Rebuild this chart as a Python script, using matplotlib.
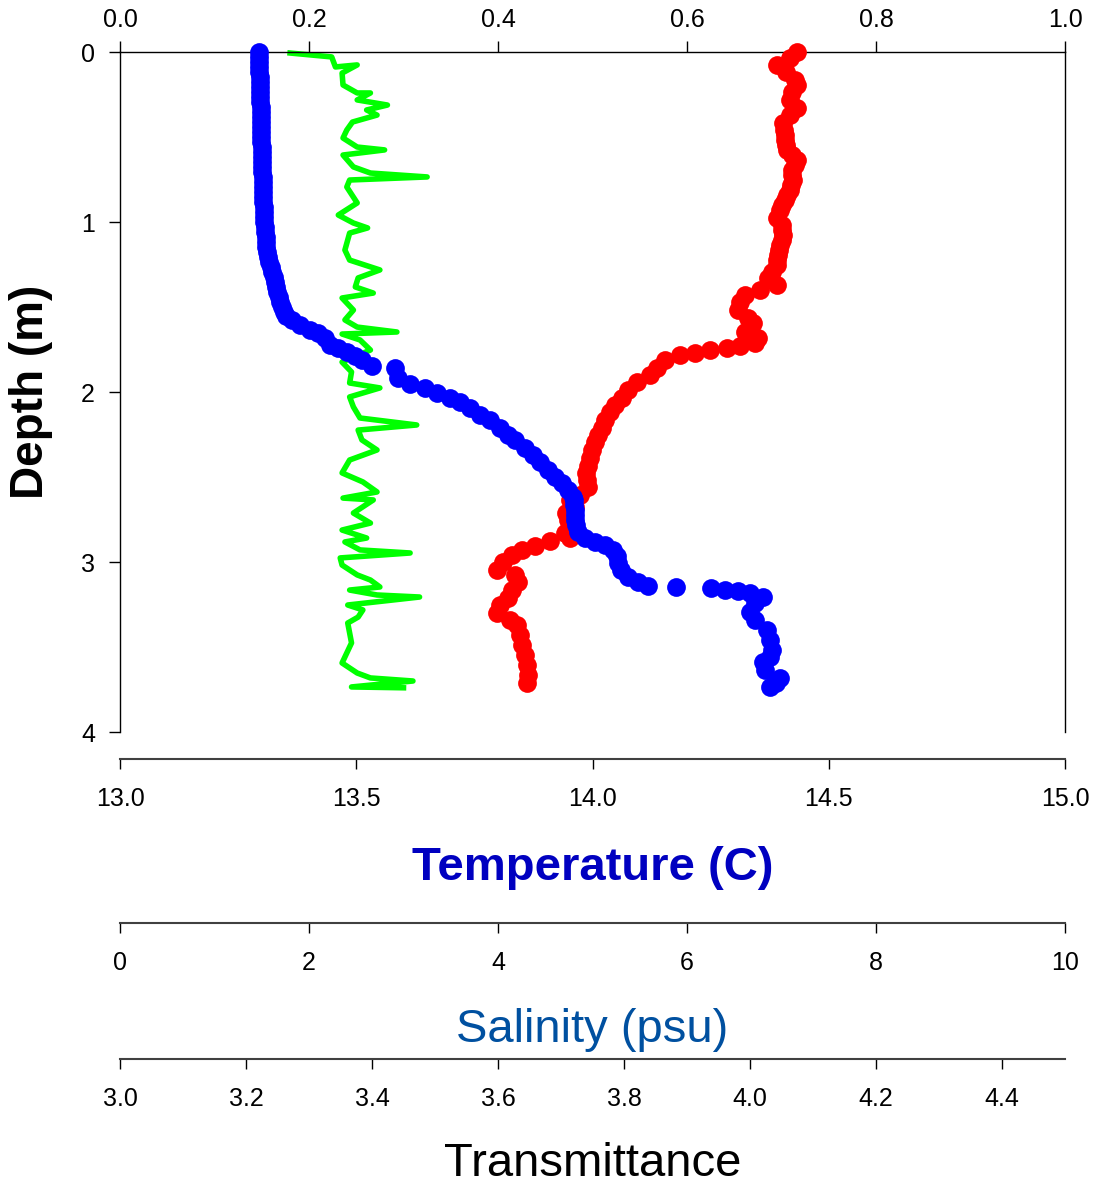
import numpy as np
import matplotlib
matplotlib.use("Agg")
import matplotlib.pyplot as plt

plt.rcParams['font.family'] = ['Liberation Sans', 'DejaVu Sans']

# temperature profile (blue dots)
temp_depth = [0.000, 0.029, 0.059, 0.088, 0.118, 0.147, 0.176, 0.206, 0.235, 0.265,
              0.294, 0.324, 0.353, 0.382, 0.412, 0.441, 0.471, 0.500, 0.529, 0.559,
              0.588, 0.618, 0.647, 0.676, 0.706, 0.735, 0.765, 0.794, 0.824, 0.853,
              0.882, 0.912, 0.941, 0.971, 1.000, 1.029, 1.059, 1.088, 1.118, 1.147,
              1.176, 1.206, 1.235, 1.265, 1.294, 1.324, 1.353, 1.382, 1.412, 1.441,
              1.471, 1.500, 1.529, 1.553,
              1.576, 1.606, 1.635, 1.653, 1.682, 1.724, 1.741, 1.765, 1.788, 1.812, 1.847,
              1.859, 1.918, 1.953, 1.976, 2.006, 2.035, 2.059, 2.094, 2.135, 2.165,
              2.212, 2.253, 2.282, 2.329, 2.371, 2.412, 2.459, 2.500, 2.535, 2.576,
              2.618, 2.635, 2.665, 2.694, 2.724, 2.753, 2.782, 2.824, 2.859, 2.882, 2.900,
              2.929, 2.965, 3.006, 3.047, 3.088, 3.118, 3.141, 3.147, 3.153, 3.165,
              3.171, 3.182, 3.206, 3.241, 3.294, 3.341, 3.400, 3.459, 3.518, 3.559,
              3.588, 3.635, 3.682, 3.712, 3.735]
temp = [13.294, 13.294, 13.294, 13.295, 13.295, 13.296, 13.296, 13.296, 13.296, 13.297,
        13.297, 13.298, 13.298, 13.298, 13.298, 13.298, 13.298, 13.299, 13.299, 13.301,
        13.301, 13.301, 13.301, 13.301, 13.301, 13.302, 13.302, 13.303, 13.303, 13.303,
        13.303, 13.304, 13.304, 13.305, 13.305, 13.306, 13.307, 13.308, 13.309, 13.310,
        13.311, 13.313, 13.316, 13.319, 13.322, 13.325, 13.328, 13.330, 13.333, 13.337,
        13.339, 13.343, 13.347, 13.351,
        13.364, 13.381, 13.402, 13.419, 13.434, 13.444, 13.461, 13.480, 13.497, 13.512, 13.533,
        13.582, 13.588, 13.614, 13.646, 13.671, 13.698, 13.720, 13.741, 13.762, 13.783,
        13.804, 13.821, 13.836, 13.857, 13.874, 13.889, 13.906, 13.921, 13.935, 13.948,
        13.959, 13.960, 13.961, 13.962, 13.963, 13.964, 13.965, 13.969, 13.984, 14.005, 14.026,
        14.043, 14.052, 14.054, 14.060, 14.075, 14.096, 14.117, 14.177, 14.251, 14.280,
        14.308, 14.333, 14.361, 14.344, 14.333, 14.344, 14.369, 14.376, 14.380, 14.376,
        14.361, 14.365, 14.397, 14.388, 14.376]

# salinity profile (red dots)
sal_depth = [0.000, 0.035, 0.076, 0.118, 0.165, 0.194, 0.235, 0.282, 0.329, 0.371,
             0.418, 0.459, 0.488, 0.518, 0.547, 0.576, 0.606, 0.635, 0.665, 0.694,
             0.724, 0.753, 0.782, 0.812, 0.841, 0.871, 0.900, 0.929, 0.976, 1.018,
             1.047, 1.076, 1.106, 1.135, 1.165, 1.194, 1.224, 1.253, 1.294, 1.329,
             1.371, 1.400, 1.429, 1.471, 1.518, 1.565, 1.594, 1.647, 1.682, 1.712,
             1.729, 1.741, 1.753, 1.771, 1.782, 1.812, 1.859, 1.900, 1.941, 1.988,
             2.035, 2.076, 2.118, 2.165, 2.212, 2.253, 2.294, 2.341, 2.388, 2.435,
             2.476, 2.518, 2.559, 2.606, 2.635, 2.676, 2.712, 2.753, 2.794, 2.829,
             2.859, 2.876, 2.906, 2.929, 2.959, 3.000, 3.047, 3.076, 3.118, 3.165,
             3.212, 3.253, 3.300, 3.341, 3.371, 3.429, 3.488, 3.547, 3.606, 3.665, 3.712]
salinity = [7.164, 7.090, 6.952, 7.048, 7.143, 7.164, 7.111, 7.090, 7.164, 7.090,
            7.016, 7.026, 7.032, 7.037, 7.048, 7.058, 7.111, 7.164, 7.143, 7.111,
            7.111, 7.122, 7.101, 7.090, 7.058, 7.037, 7.005, 6.984, 6.952, 7.005,
            7.005, 7.016, 7.005, 6.984, 6.974, 6.963, 6.952, 6.952, 6.899, 6.857,
            6.952, 6.772, 6.614, 6.561, 6.540, 6.646, 6.698, 6.614, 6.751, 6.720,
            6.561, 6.423, 6.243, 6.085, 5.926, 5.767, 5.683, 5.608, 5.471, 5.376,
            5.312, 5.238, 5.185, 5.132, 5.101, 5.058, 5.026, 4.995, 4.974, 4.952,
            4.931, 4.942, 4.952, 4.868, 4.762, 4.815, 4.720, 4.741, 4.762, 4.709,
            4.762, 4.550, 4.392, 4.254, 4.148, 4.053, 3.989, 4.180, 4.212, 4.148,
            4.106, 4.021, 3.989, 4.127, 4.201, 4.233, 4.254, 4.286, 4.307, 4.317, 4.307]

# top-axis trace (green line)
grn_depth = [0.006, 0.029, 0.088, 0.076, 0.124, 0.194, 0.241, 0.241, 0.282, 0.312,
             0.341, 0.371, 0.412, 0.459, 0.506, 0.559, 0.576, 0.606, 0.676, 0.712,
             0.735, 0.753, 0.794, 0.888, 0.959, 1.006, 1.035, 1.065, 1.165, 1.224,
             1.282, 1.329, 1.382, 1.418, 1.447, 1.518, 1.576, 1.618, 1.647, 1.659,
             1.694, 1.753, 1.824, 1.882, 1.947, 1.976, 2.029, 2.088, 2.153, 2.194,
             2.224, 2.282, 2.341, 2.400, 2.476, 2.529, 2.588, 2.624, 2.635, 2.712,
             2.771, 2.812, 2.859, 2.882, 2.929, 2.947, 2.976, 3.018, 3.076, 3.106,
             3.147, 3.165, 3.194, 3.206, 3.253, 3.282, 3.324, 3.359, 3.476, 3.594,
             3.653, 3.682, 3.700, 3.735, 3.740]
grn_val = [0.180, 0.224, 0.228, 0.251, 0.235, 0.236, 0.251, 0.265, 0.251, 0.283,
           0.261, 0.272, 0.246, 0.240, 0.236, 0.251, 0.280, 0.236, 0.247, 0.265,
           0.325, 0.243, 0.240, 0.251, 0.231, 0.247, 0.262, 0.243, 0.238, 0.243,
           0.275, 0.252, 0.249, 0.268, 0.235, 0.247, 0.238, 0.251, 0.293, 0.235,
           0.254, 0.265, 0.235, 0.245, 0.243, 0.275, 0.243, 0.247, 0.254, 0.314,
           0.252, 0.256, 0.272, 0.243, 0.235, 0.257, 0.272, 0.236, 0.268, 0.247,
           0.265, 0.235, 0.261, 0.238, 0.254, 0.307, 0.233, 0.235, 0.251, 0.265,
           0.275, 0.243, 0.272, 0.317, 0.241, 0.257, 0.252, 0.241, 0.245, 0.235,
           0.251, 0.265, 0.310, 0.245, 0.300]

depth_ticks = [0, 1, 2, 3, 4]
top_ticks = [0.0, 0.2, 0.4, 0.6, 0.8, 1.0]
temp_ticks = [13.0, 13.5, 14.0, 14.5, 15.0]
sal_ticks = [0, 2, 4, 6, 8, 10]
trans_ticks = [3.0, 3.2, 3.4, 3.6, 3.8, 4.0, 4.2, 4.4]

px = 72.0 / 100  # points per pixel at dpi 100
fig = plt.figure(figsize=(10.97, 11.84), dpi=100)
ax = fig.add_axes([120/1097, 1 - 732/1184, 945/1097, 680/1184])

ax_s = ax.twiny()
ax_tr = ax.twiny()
ax_T = ax.twiny()

# base axes: depth + top scale
ax.set_ylim(4, 0)
ax.set_yticks(depth_ticks)
ax.set_xlim(0, 1)
ax.xaxis.tick_top()
ax.set_xticks(top_ticks)
ax.set_xticklabels(["%.1f" % v for v in top_ticks])
ax.tick_params(axis='x', which='both', direction='out', length=11*px, width=1,
               labelsize=18, pad=9*px, top=True, bottom=False)
ax.tick_params(axis='y', direction='out', length=11*px, width=1, labelsize=18,
               pad=14*px, right=False)
ax.spines['bottom'].set_visible(False)
for s in ['top', 'left', 'right']:
    ax.spines[s].set_linewidth(1)
ax.set_ylabel("Depth (m)", fontsize=33, fontweight='bold', labelpad=20)
ax.plot(grn_val, grn_depth, color='#00FF00', lw=4, clip_on=False, zorder=2)

def bottom_axis(a, offset, lim, ticks, fmt, label, color, weight, lpad):
    for s in ['top', 'left', 'right']:
        a.spines[s].set_visible(False)
    a.spines['bottom'].set_visible(True)
    a.spines['bottom'].set_position(('outward', offset*px))
    a.spines['bottom'].set_linewidth(1.5)
    a.spines['bottom'].set_color('#404040')
    a.xaxis.set_ticks_position('bottom')
    a.xaxis.set_label_position('bottom')
    a.set_xlim(*lim)
    a.set_xticks(ticks)
    a.set_xticklabels([fmt % v for v in ticks])
    a.tick_params(axis='x', direction='out', length=10*px, width=1, labelsize=18,
                  pad=18*px, top=False, bottom=True)
    a.set_xlabel(label, fontsize=34, color=color, fontweight=weight, labelpad=lpad)

bottom_axis(ax_s, 191, (0, 10), sal_ticks, "%d", "Salinity (psu)", '#0050A0', 'normal', 24)
bottom_axis(ax_tr, 327, (3.0, 4.5), trans_ticks, "%.1f", "Transmittance", 'black', 'normal', 22)
bottom_axis(ax_T, 27, (13.0, 15.0), temp_ticks, "%.1f", "Temperature (C)", '#0000C0', 'bold', 25)

ax_s.plot(salinity, sal_depth, 'o', color='#FF0000', ms=13.5, mew=0, clip_on=False)
ax_T.plot(temp, temp_depth, 'o', color='#0000FF', ms=13.5, mew=0, clip_on=False)

for a in [ax_s, ax_tr, ax_T]:
    a.set_ylim(4, 0)

fig.savefig("out.png", dpi=100)
